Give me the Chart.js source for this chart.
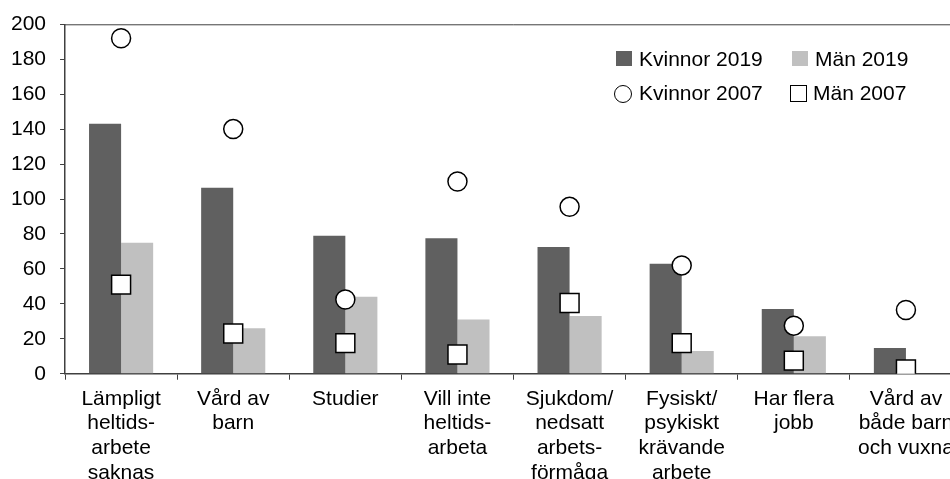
<!DOCTYPE html>
<html>
<head>
<meta charset="utf-8">
<script src="https://cdn.jsdelivr.net/npm/chart.js@4.4.1/dist/chart.umd.min.js"></script>
<style>
	html, body { margin: 0; padding: 0; overflow: hidden; background: #fff; }
	#wrap { position: absolute; left: 0; top: 0; width: 950px; height: 479px; overflow: hidden; }
	#chart { position: absolute; left: -14px; top: -2px; }
	.lg { position: absolute; font: 21px "Liberation Sans", Arial, sans-serif; color: #000; line-height: 21px; white-space: nowrap; }
	.sw { position: absolute; box-sizing: border-box; }
</style>
</head>
<body>
<div id="wrap">
	<canvas id="chart" width="995" height="494"></canvas>
	<div class="sw" style="left:616px;top:51px;width:16px;height:15px;background:#606060"></div>
	<div class="lg" style="left:639px;top:48px">Kvinnor 2019</div>
	<div class="sw" style="left:792px;top:51px;width:16px;height:15px;background:#c0c0c0"></div>
	<div class="lg" style="left:815px;top:48px">Män 2019</div>
	<div class="sw" style="left:614px;top:85px;width:18px;height:18px;border:1.5px solid #000;border-radius:50%;background:#fff"></div>
	<div class="lg" style="left:639px;top:82px">Kvinnor 2007</div>
	<div class="sw" style="left:790px;top:85px;width:17px;height:17px;border:1.5px solid #000;background:#fff"></div>
	<div class="lg" style="left:813px;top:82px">Män 2007</div>
</div>
<script>
const categories = [
	['Lämpligt', 'heltids-', 'arbete', 'saknas'],
	['Vård av', 'barn'],
	['Studier'],
	['Vill inte', 'heltids-', 'arbeta'],
	['Sjukdom/', 'nedsatt', 'arbets-', 'förmåga'],
	['Fysiskt/', 'psykiskt', 'krävande', 'arbete'],
	['Har flera', 'jobb'],
	['Vård av', 'både barn', 'och vuxna'],
];
const kvinnor2019 = [143, 106.5, 79, 77.5, 72.5, 63, 37, 14.7];
const man2019 = [75, 26, 44, 31, 33, 13, 21.5, 0];
const kvinnor2007 = [192, 140, 42.5, 110, 95.5, 62, 27.5, 36.5];
const man2007 = [51, 23, 17.5, 11, 40.5, 17.5, 7.5, 2.5];
const yTicks = [0, 20, 40, 60, 80, 100, 120, 140, 160, 180, 200];

const FONT = { family: '"Liberation Sans", Arial, sans-serif', size: 21, lineHeight: 1.17 };
const AXIS = '#404040';

// top + right frame line of the plot area
const frame = {
	id: 'frame',
	afterDraw(chart) {
		const a = chart.chartArea, c = chart.ctx;
		c.save();
		c.strokeStyle = AXIS;
		c.lineWidth = 1;
		c.beginPath();
		c.moveTo(a.left, a.top + 0.5);
		c.lineTo(a.right + 0.5, a.top + 0.5);
		c.lineTo(a.right + 0.5, a.bottom);
		c.stroke();
		c.restore();
	}
};

function pointSet(label, data, style, radius) {
	return {
		type: 'line',
		label: label,
		data: data,
		showLine: false,
		pointStyle: style,
		pointRadius: radius,
		pointHoverRadius: radius,
		pointBackgroundColor: '#ffffff',
		pointBorderColor: '#000000',
		pointBorderWidth: 1.5,
		order: 0,
	};
}

let chartData = {
	labels: categories,
	datasets: [
		{
			label: 'Kvinnor 2019',
			data: kvinnor2019,
			backgroundColor: '#606060',
			categoryPercentage: 0.572,
			barPercentage: 1.0,
			order: 1,
		},
		{
			label: 'Män 2019',
			data: man2019,
			backgroundColor: '#c0c0c0',
			categoryPercentage: 0.572,
			barPercentage: 1.0,
			order: 1,
		},
		pointSet('Kvinnor 2007', kvinnor2007, 'circle', 9.5),
		pointSet('Män 2007', man2007, 'rect', 13.4),
	],
};

let chartOptions = {
	responsive: false,
	animation: false,
	layout: {
		padding: { left: 11, right: 19, top: 16, bottom: 0 },
	},
	scales: {
		x: {
			grid: {
				offset: true,
				drawOnChartArea: false,
				tickLength: 6,
				color: AXIS,
			},
			border: { color: AXIS, width: 1.5 },
			ticks: {
				color: '#000',
				font: FONT,
				padding: 7,
				maxRotation: 0,
				autoSkip: false,
			},
		},
		y: {
			min: 0,
			max: 200,
			afterBuildTicks: (axis) => { axis.ticks = yTicks.map(v => ({ value: v })); },
			grid: {
				drawOnChartArea: false,
				tickLength: 5,
				color: AXIS,
			},
			border: { color: AXIS, width: 1.5 },
			ticks: {
				color: '#000',
				font: FONT,
				padding: 14,
			},
		},
	},
	plugins: {
		legend: { display: false },
		tooltip: { enabled: false },
	},
};

const ctx = document.getElementById('chart');
let barChart = new Chart(ctx, { type: 'bar', data: chartData, options: chartOptions, plugins: [frame] });
</script>
</body>
</html>
